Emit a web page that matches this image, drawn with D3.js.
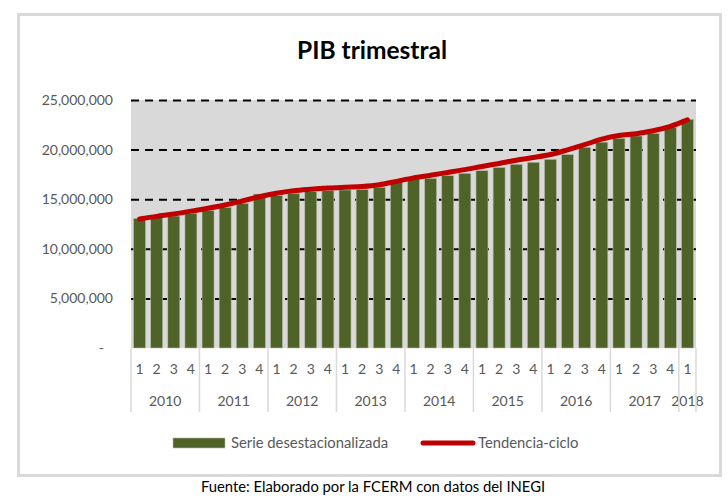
<!DOCTYPE html>
<html>
<head>
<meta charset="utf-8">
<script src="https://cdn.jsdelivr.net/npm/d3@7"></script>
<style>
  body { margin: 0; background: #fff; }
  text { font-family: Lato, "Open Sans", sans-serif; }
</style>
</head>
<body>
<div id="chart"></div>
<script>
// quarterly data, 2010 Q1 .. 2018 Q1
var quarterLabels = ['1','2','3','4','1','2','3','4','1','2','3','4','1','2','3','4',
                     '1','2','3','4','1','2','3','4','1','2','3','4','1','2','3','4','1'];
var years = ['2010','2011','2012','2013','2014','2015','2016','2017','2018'];
var quartersPerYear = [4, 4, 4, 4, 4, 4, 4, 4, 1];

// Serie desestacionalizada
var serie = [13070000, 13170000, 13300000, 13580000, 13840000, 14180000, 14580000, 15520000,
             15350000, 15590000, 15760000, 15860000, 15930000, 16000000, 16200000, 16770000,
             17050000, 17100000, 17370000, 17610000, 17870000, 18200000, 18520000, 18720000,
             19020000, 19500000, 20230000, 20750000, 21140000, 21370000, 21640000, 22250000,
             23050000];
// Tendencia-ciclo
var tendencia = [13000000, 13270000, 13500000, 13800000, 14080000, 14410000, 14820000, 15250000,
                 15600000, 15850000, 16000000, 16120000, 16200000, 16270000, 16450000, 16800000,
                 17150000, 17420000, 17700000, 17980000, 18300000, 18600000, 18930000, 19200000,
                 19500000, 19980000, 20500000, 21050000, 21420000, 21600000, 21900000, 22350000,
                 23000000];

var yTicks = [0, 5000000, 10000000, 15000000, 20000000, 25000000];

var width  = 728;
var height = 496;
var plot = { left: 131, right: 696, top: 100, bottom: 348 };

var svg = d3.select('#chart')
            .append('svg')
            .attr('width', width)
            .attr('height', height);

// outer frame
svg.append('rect')
   .attr('x', 18.5).attr('y', 14.5)
   .attr('width', 702).attr('height', 461)
   .attr('fill', '#fff')
   .attr('stroke', '#d9d9d9')
   .attr('stroke-width', 3);

var idx = d3.range(serie.length);

var x_scale = d3.scaleBand()
                .domain(idx)
                .range([plot.left, plot.right])
                .paddingInner(0.3)
                .paddingOuter(0.15);
var y_scale = d3.scaleLinear()
                .domain([0, 25000000])
                .range([plot.bottom, plot.top]);

// plot area background
svg.append('rect')
   .attr('x', plot.left).attr('y', plot.top)
   .attr('width', plot.right - plot.left)
   .attr('height', plot.bottom - plot.top)
   .attr('fill', '#d9d9d9');

// dashed gridlines
var grid = svg.append('g')
   .attr('transform', 'translate(' + plot.left + ',0)')
   .call(d3.axisLeft(y_scale)
           .tickValues(yTicks.filter(function(d) { return d > 0; }))
           .tickSize(-(plot.right - plot.left))
           .tickFormat(''));
grid.select('.domain').remove();
grid.selectAll('line')
    .attr('stroke', '#000')
    .attr('stroke-width', 2)
    .attr('stroke-dasharray', '8,6');

// y labels
var yAxis = svg.append('g')
   .attr('transform', 'translate(113,0)')
   .call(d3.axisLeft(y_scale)
           .tickValues(yTicks)
           .tickSize(0)
           .tickPadding(0)
           .tickFormat(function(d) { return d === 0 ? '-' : d3.format(',')(d); }));
yAxis.select('.domain').remove();
yAxis.selectAll('text')
     .attr('font-size', 14)
     .attr('fill', '#595959')
     .attr('font-family', 'Lato, sans-serif')
     .attr('dx', function(d) { return d === 0 ? -9 : 0; });

// bars
svg.append('g')
   .selectAll('rect')
   .data(serie)
   .enter()
   .append('rect')
   .attr('x', function(d, i) { return x_scale(i); })
   .attr('y', function(d) { return y_scale(d); })
   .attr('width', x_scale.bandwidth())
   .attr('height', function(d) { return y_scale(0) - y_scale(d); })
   .attr('fill', '#4f6228')
   .attr('stroke', '#b8bcae')
   .attr('stroke-width', 0.6);

// trend line
var line = d3.line()
             .x(function(d, i) { return x_scale(i) + x_scale.bandwidth() / 2; })
             .y(function(d) { return y_scale(d); })
             .curve(d3.curveMonotoneX);
svg.append('path')
   .datum(tendencia)
   .attr('d', line)
   .attr('fill', 'none')
   .attr('stroke', '#c00000')
   .attr('stroke-width', 5)
   .attr('stroke-linecap', 'round')
   .attr('stroke-linejoin', 'round');

// x axis: quarters
var xAxis = svg.append('g')
   .attr('transform', 'translate(0,' + plot.bottom + ')')
   .call(d3.axisBottom(x_scale)
           .tickSize(0)
           .tickPadding(16)
           .tickFormat(function(i) { return quarterLabels[i]; }));
xAxis.select('.domain').remove();
xAxis.selectAll('text')
     .attr('font-size', 14)
     .attr('fill', '#595959')
     .attr('font-family', 'Lato, sans-serif');

// year groups and separators
var step = x_scale.step();
var start = 0;
var bounds = [plot.left];
years.forEach(function(yr, k) {
	var x0 = plot.left + step * start;
	var x1 = plot.left + step * (start + quartersPerYear[k]);
	if (k === years.length - 1) x1 = plot.right;
	bounds.push(x1);
	svg.append('text')
	   .attr('x', (x0 + x1) / 2)
	   .attr('y', 406)
	   .attr('text-anchor', 'middle')
	   .attr('font-size', 14)
	   .attr('fill', '#595959')
	   .text(yr);
	start += quartersPerYear[k];
});
svg.append('g')
   .selectAll('line')
   .data(bounds)
   .enter()
   .append('line')
   .attr('x1', function(d) { return d; })
   .attr('x2', function(d) { return d; })
   .attr('y1', plot.bottom)
   .attr('y2', 412)
   .attr('stroke', '#d9d9d9')
   .attr('stroke-width', 1.5);

// title
svg.append('text')
   .attr('x', 372).attr('y', 59)
   .attr('text-anchor', 'middle')
   .attr('font-size', 24.5)
   .attr('font-weight', 'bold')
   .attr('fill', '#000')
   .text('PIB trimestral');

// legend
svg.append('rect')
   .attr('x', 173).attr('y', 438)
   .attr('width', 52).attr('height', 10)
   .attr('fill', '#4f6228')
   .attr('stroke', '#b8bcae')
   .attr('stroke-width', 0.6);
svg.append('text')
   .attr('x', 231).attr('y', 448)
   .attr('font-size', 14.8)
   .attr('fill', '#595959')
   .text('Serie desestacionalizada');
svg.append('line')
   .attr('x1', 423).attr('x2', 473)
   .attr('y1', 443).attr('y2', 443)
   .attr('stroke', '#c00000')
   .attr('stroke-width', 5)
   .attr('stroke-linecap', 'round');
svg.append('text')
   .attr('x', 478).attr('y', 448)
   .attr('font-size', 14.8)
   .attr('fill', '#595959')
   .text('Tendencia-ciclo');

// source
svg.append('text')
   .attr('x', 373).attr('y', 492)
   .attr('text-anchor', 'middle')
   .attr('font-size', 14.8)
   .attr('fill', '#000')
   .text('Fuente: Elaborado por la FCERM con datos del INEGI');
</script>
</body>
</html>
